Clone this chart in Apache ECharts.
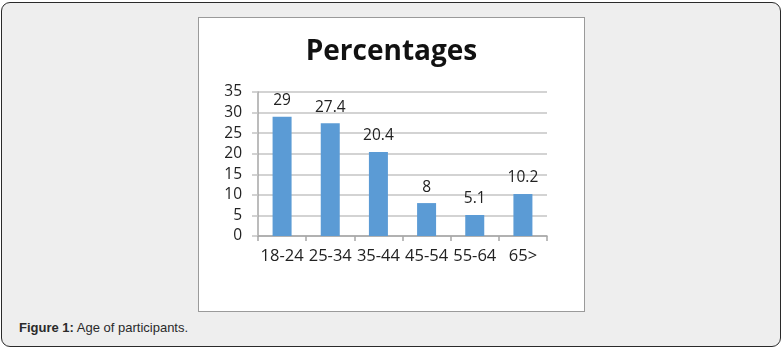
<!DOCTYPE html>
<html>
<head>
<meta charset="utf-8">
<script src="https://cdn.jsdelivr.net/npm/echarts@6/dist/echarts.min.js"></script>
<style>
html, body { margin: 0; padding: 0; background: #fff; }
.frame {
  position: absolute; left: 1px; top: 2px; width: 778px; height: 343px;
  border: 1.5px solid #2a2a2a; border-radius: 9px; background: #eeeeee;
}
.figbox {
  position: absolute; left: 198px; top: 17px; width: 385px; height: 293px;
  border: 1.5px solid #9a9a9a; background: #fff;
}
#chart { width: 100%; height: 100%; }
.caption {
  position: absolute; left: 19px; top: 320px;
  font-family: "Liberation Sans", Arial, sans-serif; font-size: 13px; color: #2a2a2a;
}
</style>
</head>
<body>
<div class="frame"></div>
<div class="figbox"><div id="chart"></div></div>
<div class="caption"><b>Figure 1:</b> Age of participants.</div>
<script>
const categories = ['18-24', '25-34', '35-44', '45-54', '55-64', '65>'];
const percentages = [29, 27.4, 20.4, 8, 5.1, 10.2];
const chartTitle = 'Percentages';

const chart = echarts.init(document.getElementById('chart'));
const font = '"Open Sans", "Noto Sans", sans-serif';
const option = {
  animation: false,
  title: {
    text: chartTitle,
    left: 'center',
    top: 15,
    textStyle: { fontFamily: font, fontWeight: 'bold', fontSize: 28, color: '#111' }
  },
  grid: { left: 59, top: 74, width: 289, height: 144 },
  xAxis: {
    type: 'category',
    data: categories,
    axisLine: { lineStyle: { color: '#a6a6a6', width: 1.5 } },
    axisTick: { show: true, length: 5, alignWithLabel: false, lineStyle: { color: '#a6a6a6', width: 1.5 } },
    axisLabel: { fontFamily: font, fontSize: 16.5, color: '#222', margin: 12, interval: 0 }
  },
  yAxis: {
    type: 'value',
    min: 0, max: 35, interval: 5,
    axisLine: { show: true, lineStyle: { color: '#a6a6a6', width: 1.5 } },
    axisTick: { show: true, length: 6, lineStyle: { color: '#c4c4c4', width: 1.5 } },
    axisLabel: { fontFamily: font, fontSize: 15.5, color: '#222', margin: 16 },
    splitLine: { lineStyle: { color: '#c4c4c4', width: 1.5 } }
  },
  series: [{
    type: 'bar',
    data: percentages,
    barWidth: 19,
    itemStyle: { color: '#5b9bd5' },
    label: {
      show: true, position: 'top', distance: 8,
      fontFamily: font, fontSize: 15.5, color: '#222'
    }
  }]
};
chart.setOption(option);
</script>
</body>
</html>
